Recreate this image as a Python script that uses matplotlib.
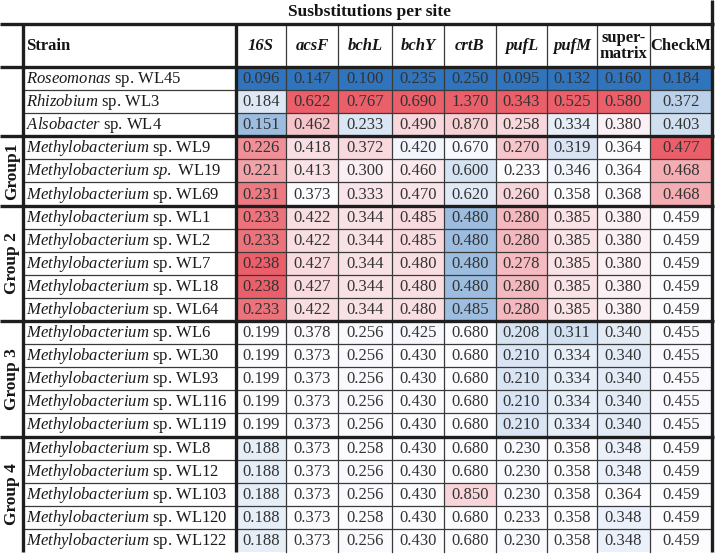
import matplotlib.pyplot as plt
import numpy as np
from matplotlib.colors import LinearSegmentedColormap, TwoSlopeNorm
from matplotlib.patches import Rectangle

# data
genes = ["16S", "acsF", "bchL", "bchY", "crtB", "pufL", "pufM", "super-\nmatrix", "CheckM"]
italic_genes = [True, True, True, True, True, True, True, False, False]

strains = [
    r"$\mathit{Roseomonas}$ sp. WL45",
    r"$\mathit{Rhizobium}$ sp. WL3",
    r"$\mathit{Alsobacter}$ sp. WL4",
    r"$\mathit{Methylobacterium}$ sp. WL9",
    r"$\mathit{Methylobacterium\ sp.}$ WL19",
    r"$\mathit{Methylobacterium}$ sp. WL69",
    r"$\mathit{Methylobacterium}$ sp. WL1",
    r"$\mathit{Methylobacterium}$ sp. WL2",
    r"$\mathit{Methylobacterium}$ sp. WL7",
    r"$\mathit{Methylobacterium}$ sp. WL18",
    r"$\mathit{Methylobacterium}$ sp. WL64",
    r"$\mathit{Methylobacterium}$ sp. WL6",
    r"$\mathit{Methylobacterium}$ sp. WL30",
    r"$\mathit{Methylobacterium}$ sp. WL93",
    r"$\mathit{Methylobacterium}$ sp. WL116",
    r"$\mathit{Methylobacterium}$ sp. WL119",
    r"$\mathit{Methylobacterium}$ sp. WL8",
    r"$\mathit{Methylobacterium}$ sp. WL12",
    r"$\mathit{Methylobacterium}$ sp. WL103",
    r"$\mathit{Methylobacterium}$ sp. WL120",
    r"$\mathit{Methylobacterium}$ sp. WL122",
]

groups = ["", "Group1", "Group 2", "Group 3", "Group 4"]
group_sizes = [3, 3, 5, 5, 5]

values = np.array([
    [0.096, 0.147, 0.100, 0.235, 0.250, 0.095, 0.132, 0.160, 0.184],
    [0.184, 0.622, 0.767, 0.690, 1.370, 0.343, 0.525, 0.580, 0.372],
    [0.151, 0.462, 0.233, 0.490, 0.870, 0.258, 0.334, 0.380, 0.403],
    [0.226, 0.418, 0.372, 0.420, 0.670, 0.270, 0.319, 0.364, 0.477],
    [0.221, 0.413, 0.300, 0.460, 0.600, 0.233, 0.346, 0.364, 0.468],
    [0.231, 0.373, 0.333, 0.470, 0.620, 0.260, 0.358, 0.368, 0.468],
    [0.233, 0.422, 0.344, 0.485, 0.480, 0.280, 0.385, 0.380, 0.459],
    [0.233, 0.422, 0.344, 0.485, 0.480, 0.280, 0.385, 0.380, 0.459],
    [0.238, 0.427, 0.344, 0.480, 0.480, 0.278, 0.385, 0.380, 0.459],
    [0.238, 0.427, 0.344, 0.480, 0.480, 0.280, 0.385, 0.380, 0.459],
    [0.233, 0.422, 0.344, 0.480, 0.485, 0.280, 0.385, 0.380, 0.459],
    [0.199, 0.378, 0.256, 0.425, 0.680, 0.208, 0.311, 0.340, 0.455],
    [0.199, 0.373, 0.256, 0.430, 0.680, 0.210, 0.334, 0.340, 0.455],
    [0.199, 0.373, 0.256, 0.430, 0.680, 0.210, 0.334, 0.340, 0.455],
    [0.199, 0.373, 0.256, 0.430, 0.680, 0.210, 0.334, 0.340, 0.455],
    [0.199, 0.373, 0.256, 0.430, 0.680, 0.210, 0.334, 0.340, 0.455],
    [0.188, 0.373, 0.258, 0.430, 0.680, 0.230, 0.358, 0.348, 0.459],
    [0.188, 0.373, 0.256, 0.430, 0.680, 0.230, 0.358, 0.348, 0.459],
    [0.188, 0.373, 0.256, 0.430, 0.850, 0.230, 0.358, 0.364, 0.459],
    [0.188, 0.373, 0.258, 0.430, 0.680, 0.233, 0.358, 0.348, 0.459],
    [0.188, 0.373, 0.256, 0.430, 0.680, 0.230, 0.358, 0.348, 0.459],
])

# style
plt.rcParams['font.family'] = ['Liberation Serif', 'DejaVu Serif']
plt.rcParams['mathtext.fontset'] = 'custom'
plt.rcParams['mathtext.rm'] = 'Liberation Serif'
plt.rcParams['mathtext.it'] = 'Liberation Serif:italic'
plt.rcParams['mathtext.bf'] = 'Liberation Serif:bold'

cmap = LinearSegmentedColormap.from_list('bwr_xl', ['#2f74bd', '#fcfcff', '#ea5f69'])

W, H = 716, 555
fig = plt.figure(figsize=(7.16, 5.55), dpi=100, facecolor='white')
ax = fig.add_axes([0, 0, 1, 1])
ax.set_xlim(0, W)
ax.set_ylim(H, 0)
ax.axis('off')

# layout (pixels)
col_edges = [0, 23, 236, 286, 338, 392, 444, 496, 547, 597, 650, 712]
head_top, head_bot = 24, 67
n_rows = len(strains)
row_h = (552 - head_bot) / n_rows
row_y = head_bot + np.arange(n_rows + 1) * row_h
bottom = row_y[-1]

# colored cells, per-column 3 colour scale (midpoint = median)
for j in range(len(genes)):
    col = values[:, j]
    norm = TwoSlopeNorm(vmin=col.min(), vcenter=np.median(col), vmax=col.max())
    x0, x1 = col_edges[j + 2], col_edges[j + 3]
    for i in range(n_rows):
        ax.add_patch(Rectangle((x0, row_y[i]), x1 - x0, row_h,
                               facecolor=cmap(norm(col[i])), edgecolor='none', zorder=1))
        ax.text((x0 + x1) / 2, row_y[i] + row_h / 2 + 0.5, f"{col[i]:.3f}",
                ha='center', va='center', fontsize=12, color='#333333', zorder=3)

# strain names
for i, s in enumerate(strains):
    ax.text(col_edges[1] + 3, row_y[i] + row_h / 2 + 0.5, s,
            ha='left', va='center', fontsize=12, color='#1a1a1a', zorder=3)

# header
ax.text(370, 12, "Susbstitutions per site", ha='center', va='center',
        fontsize=12.5, fontweight='bold', color='#151515')
ax.text(col_edges[1] + 3, (head_top + head_bot) / 2 + 1, "Strain", ha='left', va='center',
        fontsize=12, fontweight='bold', color='#151515')
for j, g in enumerate(genes):
    cx = (col_edges[j + 2] + col_edges[j + 3]) / 2
    ax.text(cx, (head_top + head_bot) / 2 + 1, g, ha='center', va='center',
            fontsize=12, fontweight='bold', style='italic' if italic_genes[j] else 'normal',
            linespacing=1.0, color='#151515')

# group labels
bounds = np.cumsum([0] + group_sizes)
for k, g in enumerate(groups):
    if g:
        yc = (row_y[bounds[k]] + row_y[bounds[k + 1]]) / 2
        ax.text(col_edges[1] / 2 + 0.5, yc, g, rotation=90, ha='center', va='center',
                fontsize=12.5, fontweight='bold', color='#151515')

# grid lines
thin = dict(color='#3a3a3a', lw=0.9, zorder=4)
thick = dict(color='#1e1e1e', lw=2.4, zorder=5, solid_capstyle='butt')

for i in range(1, n_rows):
    if i not in bounds:
        ax.plot([col_edges[1], col_edges[-1]], [row_y[i], row_y[i]], **thin)
for xe in col_edges[3:-1]:
    ax.plot([xe, xe], [head_top, bottom], **thin)

for yy in [head_top, head_bot] + [row_y[b] for b in bounds[1:-1]]:
    ax.plot([0, col_edges[-1] + 1.5], [yy, yy], **thick)
ax.plot([col_edges[1], col_edges[1]], [head_top, bottom], **thick)
ax.plot([col_edges[2], col_edges[2]], [head_top, bottom], **thick)
ax.plot([col_edges[-1], col_edges[-1]], [0, bottom], **thick)

fig.savefig('out.png', dpi=100, facecolor='white')
